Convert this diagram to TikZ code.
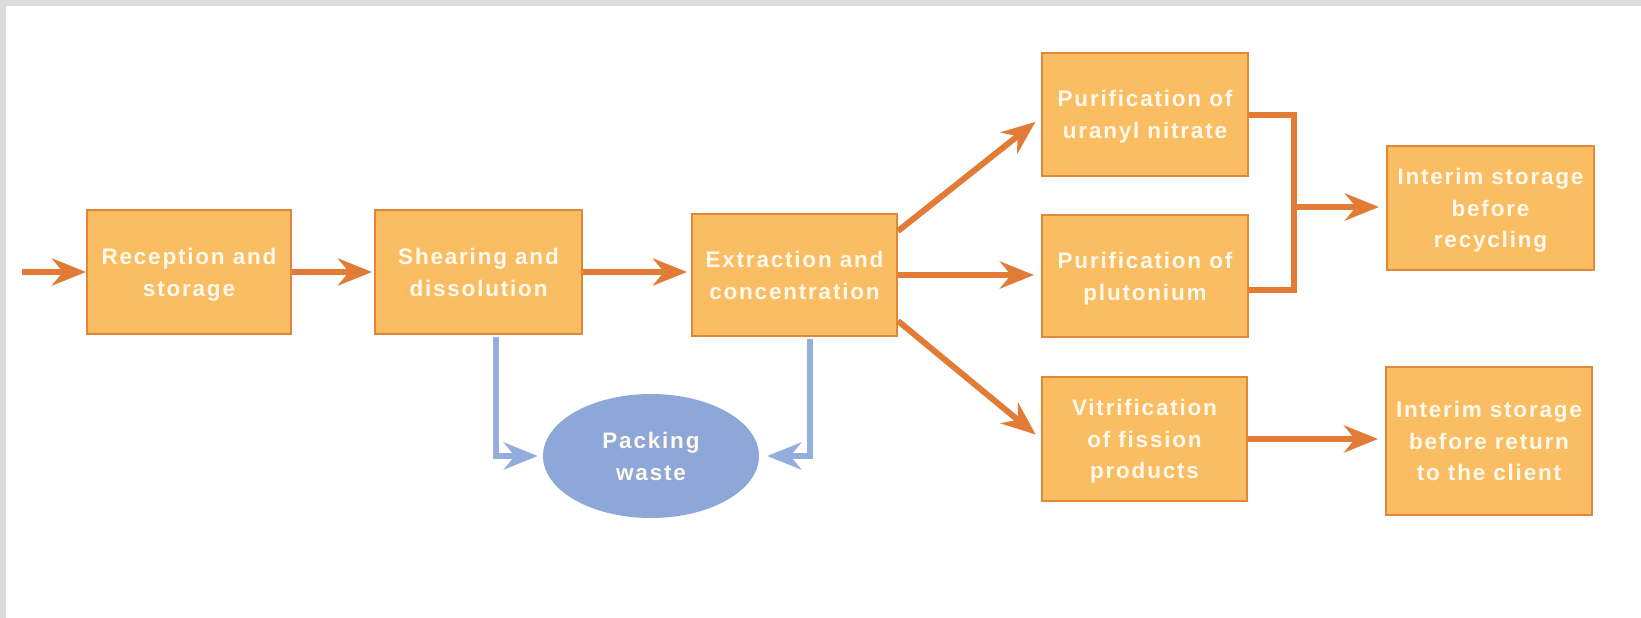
\documentclass[tikz,border=0pt]{standalone}
\usepackage{fontspec}
\newfontfamily\boxfont{Liberation Sans}[LetterSpace=8]
\usetikzlibrary{arrows.meta,shapes.geometric}
\definecolor{boxfill}{HTML}{FBBD62}
\definecolor{boxline}{HTML}{E0873A}
\definecolor{arr}{HTML}{E27B35}
\definecolor{wfill}{HTML}{8CA7D8}
\definecolor{warr}{HTML}{93ADDC}
\definecolor{framegray}{HTML}{DCDCDC}
\definecolor{txt}{HTML}{FFF9EE}
\begin{document}
\begin{tikzpicture}[x=1pt,y=-1pt,
  lbl/.style={align=center, text=txt, inner sep=0pt, font=\boxfont\bfseries\fontsize{22.5}{31.8}\selectfont, text depth=-2pt},
  proc/.style={lbl, rectangle, draw=boxline, line width=2pt, fill=boxfill, minimum width=206pt, minimum height=123pt},
  waste/.style={lbl, ellipse, fill=wfill, minimum width=216pt, minimum height=124pt},
  tipo/.style={-{Stealth[length=34pt,width=27pt,inset=11pt]}},
  flow/.style={draw=arr, line width=6pt, tipo},
  bracket/.style={draw=arr, line width=6pt, line join=miter},
  wflow/.style={draw=warr, line width=6pt, line join=miter, tipo},
]
\useasboundingbox (0,0) rectangle (1641,618);
\fill[framegray] (0,0) rectangle (1641,618);
\fill[white] (6,6) rectangle (1641,618);

\node[proc, minimum width=204pt, minimum height=124pt] (rc) at (189,272) {Reception and\\storage};
\node[proc, minimum width=207pt, minimum height=124pt] (sh) at (478.5,272) {Shearing and\\dissolution};
\node[proc, minimum width=205pt, minimum height=122pt] (ex) at (794.5,275) {Extraction and\\concentration};
\node[proc] (ur) at (1145,114.5) {Purification of\\uranyl nitrate};
\node[proc, minimum height=122pt] (pl) at (1145,276) {Purification of\\plutonium};
\node[proc, minimum width=205pt, minimum height=124pt] (vt) at (1144.5,439) {Vitrification\\of fission\\products};
\node[proc, minimum width=207pt, minimum height=124pt] (ir) at (1490.5,208) {Interim storage\\before\\recycling};
\node[proc, minimum width=206pt, minimum height=148pt] (ic) at (1489,441) {Interim storage\\before return\\to the client};
\node[waste] (pw) at (651,456) {Packing\\waste};

\coordinate (in) at (22,272);
\coordinate (jn) at (1294,207);

\draw[flow] (in) -- (rc.west);
\draw[flow, shorten >=2pt] (rc.east) -- (sh.west |- rc.east);
\draw[flow, shorten >=4pt] (sh.east) -- (ex.west |- sh.east);
\draw[flow, shorten >=7pt] ([yshift=-18pt]ex.north east) -- ([yshift=-3pt]ur.west);
\draw[flow, shorten >=7pt] (ex.east) -- (pl.west |- ex.east);
\draw[flow, shorten >=7pt] ([yshift=16pt]ex.south east) -- (vt.west);
\draw[bracket] (ur.east) -| (jn) |- ([yshift=-14pt]pl.east);
\draw[flow, shorten >=7pt] (jn) -- (ir.west |- jn);
\draw[flow, shorten >=7pt] (vt.east) -- (ic.west |- vt.east);
\draw[wflow, shorten >=5pt] ([xshift=17.5pt,yshift=-2pt]sh.south) |- (pw.west);
\draw[wflow, shorten >=8pt] ([xshift=15.5pt,yshift=-2pt]ex.south) |- (pw.east);
\end{tikzpicture}
\end{document}
